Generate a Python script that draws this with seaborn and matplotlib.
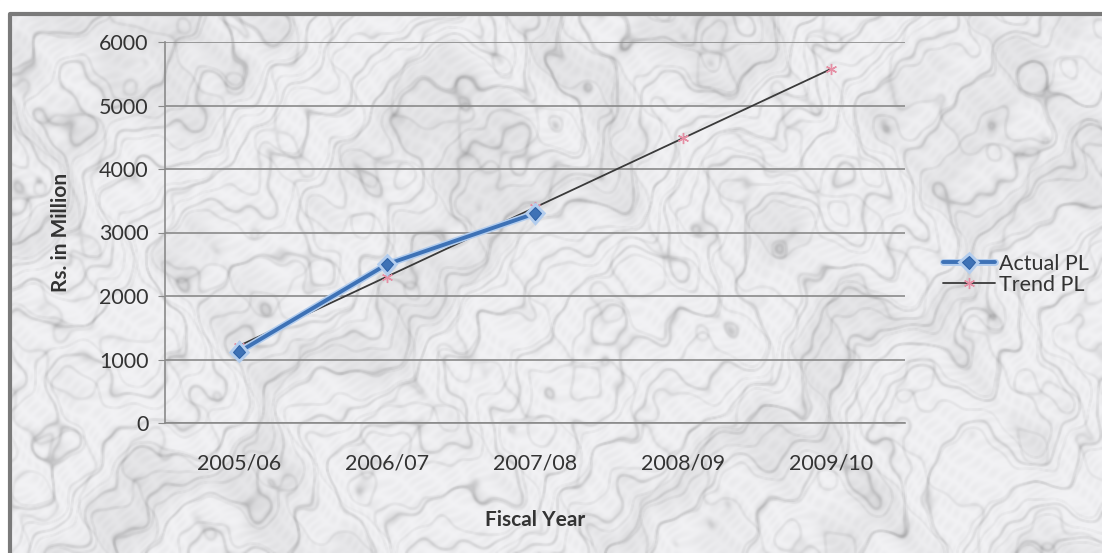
import numpy as np
import pandas as pd
import matplotlib
matplotlib.use("Agg")
import matplotlib.pyplot as plt
import matplotlib.patheffects as pe
from matplotlib.patches import Rectangle
import seaborn as sns

# Profit/loss figures (Rs. in Million)
years = ["2005/06", "2006/07", "2007/08", "2008/09", "2009/10"]
actual_years = ["2005/06", "2006/07", "2007/08"]
actual_pl = [1120, 2500, 3300]
trend_pl = [1215, 2305, 3395, 4485, 5575]
y_ticks = [0, 1000, 2000, 3000, 4000, 5000, 6000]

sns.set_style("white")
plt.rcParams["font.family"] = ["Lato", "DejaVu Sans"]

W, H = 1102, 553
fig = plt.figure(figsize=(W / 100, H / 100), dpi=100)


def box_blur(a, r):
    """Separable box blur of radius r."""
    k = 2 * r + 1
    p = np.pad(a, r, mode="edge")
    c = np.cumsum(np.cumsum(p, axis=0), axis=1)
    c = np.pad(c, ((1, 0), (1, 0)))
    return (c[k:, k:] - c[:-k, k:] - c[k:, :-k] + c[:-k, :-k]) / (k * k)


# Marble-like backdrop built from layered sinusoids, veins running diagonally
yy, xx = np.mgrid[0:H, 0:W].astype(float)
xx /= 100.0
yy /= 100.0
waves = [
    (0.60, 1.3, 2.1, 0.4), (0.50, -2.2, 1.7, 1.9), (0.40, 3.1, -2.6, 2.7),
    (0.30, 5.3, 4.1, 0.9), (0.22, -6.7, 5.9, 3.3), (0.15, 9.1, -7.7, 1.2),
    (0.10, 12.3, 10.9, 4.4), (0.06, -17.9, 15.1, 2.5),
]
turb = np.zeros_like(xx)
for a, fx, fy, ph in waves:
    turb += a * np.sin(fx * xx + fy * yy + ph)
veins1 = np.abs(np.sin(5.0 * (xx + 0.9 * yy) + 2.6 * turb))
veins2 = np.abs(np.sin(7.0 * (0.8 * xx + yy) + 3.4 * turb + 1.0))
veins3 = np.abs(np.sin(3.2 * (xx - 0.5 * yy) + 2.0 * turb + 2.3))
blotch = 0.5 + 0.5 * np.sin(1.6 * turb + 1.2 * xx + 1.1 * yy)
fine = np.sin(31 * xx + 29 * yy + 5 * turb) * np.sin(13 * xx - 11 * yy + 3 * turb)
tex = (0.95 - 0.17 * (1 - veins1) ** 9 - 0.12 * (1 - veins2) ** 12
       - 0.10 * (1 - veins3) ** 14 - 0.05 * blotch ** 4 - 0.03 * np.abs(fine))
tex = box_blur(np.clip(tex, 0.55, 1.0), 1)
img = np.dstack([tex, tex, np.clip(tex * 1.01, 0, 1)])

bg = fig.add_axes([0, 0, 1, 1], zorder=0)
bg.imshow(img, extent=[0, W, H, 0], aspect="auto", interpolation="bilinear")
# white margin outside the chart frame
bg.add_patch(Rectangle((0, 0), W, 12, color="white", zorder=2))
bg.add_patch(Rectangle((0, 0), 8, H, color="white", zorder=2))
bg.plot([9.5, 9.5, W + 5], [H + 5, 13.5, 13.5], color="#7a7a7a", lw=3, zorder=3)
bg.set_xlim(0, W)
bg.set_ylim(H, 0)
bg.axis("off")

ax = fig.add_axes([165 / W, 1 - 423 / H, 740 / W, 381 / H], zorder=1)
ax.patch.set_alpha(0)

df_trend = pd.DataFrame({"year": years, "value": trend_pl})
df_actual = pd.DataFrame({"year": actual_years, "value": actual_pl})

sns.lineplot(data=df_trend, x="year", y="value", ax=ax, color="#3a3a3a", lw=1.3,
             marker=(6, 2, 0), markersize=8, markeredgecolor="#e58ea4",
             markerfacecolor="#e58ea4", markeredgewidth=1.0, label="Trend PL", zorder=4)
sns.lineplot(data=df_actual, x="year", y="value", ax=ax, color="#3e72b6", lw=2.8,
             marker="D", markersize=6.5, markeredgecolor="#2f62a6",
             markerfacecolor="#3e72b6", label="Actual PL", zorder=5,
             path_effects=[pe.withStroke(linewidth=5, foreground="#b3cdee")])

ax.set_xlim(-0.5, 4.5)
ax.set_ylim(0, 6000)
ax.set_yticks(y_ticks)
ax.set_yticklabels([str(v) for v in y_ticks])
ax.yaxis.grid(True, color="#8a8a8a", lw=1.2)
ax.xaxis.grid(False)
for s in ["top", "right"]:
    ax.spines[s].set_visible(False)
for s in ["left", "bottom"]:
    ax.spines[s].set_color("#8a8a8a")
    ax.spines[s].set_linewidth(1.2)
ax.tick_params(axis="y", length=5, color="#8a8a8a", pad=7, labelsize=15.5,
               labelcolor="#333333", left=True)
ax.tick_params(axis="x", length=0, pad=22, labelsize=15.5, labelcolor="#333333")

ax.set_xlabel("Fiscal Year", fontsize=15, fontweight="bold", color="#333333", labelpad=26)
ax.set_ylabel("Rs. in Million", fontsize=15, fontweight="bold", color="#333333", labelpad=20)

handles, labels = ax.get_legend_handles_labels()
order = [labels.index("Actual PL"), labels.index("Trend PL")]
leg = ax.legend([handles[i] for i in order], [labels[i] for i in order],
                loc="center left", bbox_to_anchor=(1.025, 0.39), frameon=False,
                fontsize=15.5, handlelength=2.4, handletextpad=0.2, labelspacing=0.05,
                labelcolor="#333333")

fig.savefig("out.png", dpi=100)
